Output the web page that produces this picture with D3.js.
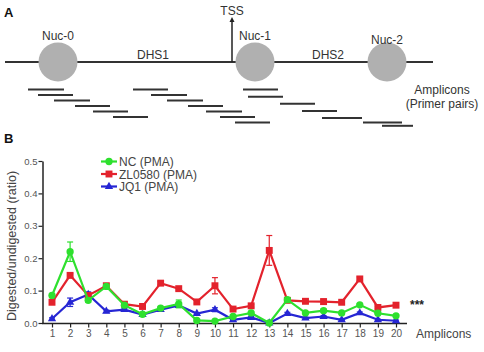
<!DOCTYPE html>
<html><head><meta charset="utf-8">
<script src="https://cdn.jsdelivr.net/npm/d3@7"></script>
<style>
body{margin:0;background:#fff;}
svg{display:block;font-family:"Liberation Sans",Arial,sans-serif;}
</style></head>
<body><svg id="c" width="484" height="352"></svg>
<script>
// ---------- data ----------
const amplicons = d3.range(1, 21);
const ncVals    = [0.085,0.22,0.07,0.113,0.055,0.027,0.046,0.059,0.008,0.006,0.02,0.031,0.0,0.072,0.031,0.038,0.031,0.056,0.03,0.022];
const zlVals    = [0.064,0.147,0.085,0.115,0.058,0.051,0.123,0.106,0.065,0.115,0.043,0.053,0.224,0.07,0.067,0.066,0.064,0.136,0.048,0.055];
const jqVals    = [0.013,0.064,0.088,0.036,0.041,0.026,0.041,0.054,0.029,0.041,0.01,0.017,0.0,0.029,0.015,0.02,0.01,0.031,0.01,0.007];
const ncErr     = [0.006,0.03,0.006,0.005,0.004,0.003,0.005,0.012,0.003,0.003,0.003,0.003,0.002,0.006,0.003,0.005,0.003,0.004,0.003,0.003];
const zlErr     = [0.005,0.006,0.005,0.006,0.004,0.004,0.005,0.004,0.004,0.025,0.004,0.004,0.046,0.004,0.004,0.008,0.004,0.006,0.004,0.004];
const jqErr     = [0.003,0.013,0.008,0.004,0.004,0.003,0.005,0.006,0.003,0.006,0.002,0.003,0.002,0.004,0.003,0.003,0.002,0.003,0.002,0.002];
const yTicks    = [0, 0.1, 0.2, 0.3, 0.4, 0.5];
const seriesNames = ["NC (PMA)", "ZL0580 (PMA)", "JQ1 (PMA)"];
// Panel A: genomic diagram (arbitrary genomic units)
const nucleosomes = ["Nuc-0", "Nuc-1", "Nuc-2"];
const nucCenters  = [58, 255, 387];
const tssPos      = 232;
const ampStart = [28,38,54,75,93,113, 133,151,167,188,206,220,235, 243,248,280,302,322,363,382];
const ampEnd   = [64,73,90,110,128,148, 168,187,203,223,242,255,270, 278,283,315,337,362,402,413];
const ampRow   = [0,1,2,3,4,5, 0,1,2,3,4,5,6, 0,1.3,2.6,3.9,5.2,6,6.6];

const svg = d3.select("#c");
const txt = "#333";
const FS = 12;

// ---------- Panel A ----------
svg.append("text").attr("x",4).attr("y",17).attr("font-weight","bold").attr("font-size",13).attr("fill","#111").text("A");
const gx = d3.scaleLinear().domain([0, 484]).range([0, 484]);
const lineY = 62;
svg.append("line").attr("x1",gx(5)).attr("x2",gx(433)).attr("y1",lineY).attr("y2",lineY)
  .attr("stroke","#333").attr("stroke-width",2);
svg.selectAll("circle.nuc").data(nucleosomes).join("circle").attr("class","nuc")
  .attr("cx",(d,i)=>gx(nucCenters[i])).attr("cy",lineY).attr("r",19.5).attr("fill","#b0b0b0");
svg.selectAll("text.nuc").data(nucleosomes).join("text").attr("class","nuc")
  .attr("x",(d,i)=>gx(nucCenters[i])).attr("y",(d,i)=>i===2?44:40).attr("text-anchor","middle")
  .attr("font-size",FS).attr("fill",txt).text(d=>d);
svg.append("text").attr("x",gx(153)).attr("y",59).attr("text-anchor","middle").attr("font-size",FS).attr("fill",txt).text("DHS1");
svg.append("text").attr("x",gx(328)).attr("y",59).attr("text-anchor","middle").attr("font-size",FS).attr("fill",txt).text("DHS2");
svg.append("line").attr("x1",gx(tssPos)).attr("x2",gx(tssPos)).attr("y1",lineY).attr("y2",20).attr("stroke","#222").attr("stroke-width",1.5);
svg.append("path").attr("d",`M${gx(tssPos)-2.5},22 L${gx(tssPos)},17 L${gx(tssPos)+2.5},22 Z`).attr("fill","#222");
svg.append("text").attr("x",gx(tssPos)).attr("y",15).attr("text-anchor","middle").attr("font-size",FS).attr("fill",txt).text("TSS");
const rowY = d3.scaleLinear().domain([0,6]).range([89.5,122.5]);
svg.selectAll("line.amp").data(amplicons).join("line").attr("class","amp")
  .attr("x1",(d,i)=>gx(ampStart[i])).attr("x2",(d,i)=>gx(ampEnd[i]))
  .attr("y1",(d,i)=>rowY(ampRow[i])).attr("y2",(d,i)=>rowY(ampRow[i]))
  .attr("stroke","#333").attr("stroke-width",2);
svg.append("text").attr("x",442).attr("y",94).attr("text-anchor","middle").attr("font-size",FS).attr("fill",txt).text("Amplicons");
svg.append("text").attr("x",442).attr("y",108).attr("text-anchor","middle").attr("font-size",FS).attr("fill",txt).text("(Primer pairs)");

// ---------- Panel B ----------
svg.append("text").attr("x",4).attr("y",143).attr("font-weight","bold").attr("font-size",13).attr("fill","#111").text("B");

const x = d3.scaleLinear().domain([1,20]).range([52,396]);
const y = d3.scaleLinear().domain([0,0.5]).range([323,161]);

// axes
const yAxis = d3.axisLeft(y).tickValues(yTicks).tickFormat(d3.format(".1f")).tickSize(4).tickSizeOuter(0);
const gy = svg.append("g").attr("transform","translate(42.5,0)").call(yAxis);
gy.select(".domain").attr("stroke","#222").attr("stroke-width",1.5);
gy.selectAll(".tick line").attr("stroke","#222").attr("stroke-width",1.2);
gy.selectAll(".tick text").attr("font-size",9.5).attr("fill","#555").attr("font-family","Liberation Sans, Arial, sans-serif").attr("x",-5);

const xAxis = d3.axisBottom(x).tickValues(amplicons).tickFormat(d3.format("d")).tickSize(4).tickSizeOuter(0);
const gxa = svg.append("g").attr("transform","translate(0,323.5)").call(xAxis);
gxa.select(".domain").attr("d","M42,0H407").attr("stroke","#222").attr("stroke-width",1.5);
gxa.selectAll(".tick line").attr("stroke","#222").attr("stroke-width",1.2);
gxa.selectAll(".tick text").attr("font-size",10).attr("fill","#555").attr("font-family","Liberation Sans, Arial, sans-serif").attr("y",6);

svg.append("text").attr("transform","translate(16,246) rotate(-90)").attr("text-anchor","middle")
  .attr("font-size",12.5).attr("fill","#444").text("Digested/undigested (ratio)");
svg.append("text").attr("x",416).attr("y",338).attr("font-size",FS).attr("fill","#444").text("Amplicons");
svg.append("text").attr("x",410).attr("y",309).attr("font-size",12).attr("font-weight","bold").attr("fill","#222").text("***");

const series = [
  {name:seriesNames[2], vals:jqVals, err:jqErr, color:"#2626d4", shape:d3.symbolTriangle, size:30},
  {name:seriesNames[1], vals:zlVals, err:zlErr, color:"#e3222c", shape:d3.symbolSquare, size:48},
  {name:seriesNames[0], vals:ncVals, err:ncErr, color:"#2ee02e", shape:d3.symbolCircle, size:42},
];
const line = d3.line().x((d,i)=>x(amplicons[i])).y(d=>y(d));
series.forEach(s=>{
  const g = svg.append("g");
  s.vals.forEach((v,i)=>{
    const cx = x(amplicons[i]);
    g.append("line").attr("x1",cx).attr("x2",cx).attr("y1",y(v-s.err[i])).attr("y2",y(v+s.err[i])).attr("stroke",s.color).attr("stroke-width",1.2);
    [v-s.err[i], v+s.err[i]].forEach(e=>{
      g.append("line").attr("x1",cx-3).attr("x2",cx+3).attr("y1",y(e)).attr("y2",y(e)).attr("stroke",s.color).attr("stroke-width",1.2);
    });
  });
  g.append("path").attr("d",line(s.vals)).attr("fill","none").attr("stroke",s.color).attr("stroke-width",2.2);
  g.selectAll("path.m").data(s.vals).join("path").attr("class","m")
    .attr("transform",(d,i)=>`translate(${x(amplicons[i])},${y(d)})`)
    .attr("d",d3.symbol().type(s.shape).size(s.size)).attr("fill",s.color);
});

// legend
const legend = [
  {name:seriesNames[0], color:"#2ee02e", shape:d3.symbolCircle, size:42},
  {name:seriesNames[1], color:"#e3222c", shape:d3.symbolSquare, size:48},
  {name:seriesNames[2], color:"#2626d4", shape:d3.symbolTriangle, size:30},
];
legend.forEach((l,i)=>{
  const ly = 161.5 + i*12.5;
  svg.append("line").attr("x1",101).attr("x2",117).attr("y1",ly).attr("y2",ly).attr("stroke",l.color).attr("stroke-width",2.2);
  svg.append("path").attr("transform",`translate(109,${ly})`).attr("d",d3.symbol().type(l.shape).size(l.size)).attr("fill",l.color);
  svg.append("text").attr("x",119).attr("y",ly+4.5).attr("font-size",FS).attr("fill","#444").text(l.name);
});
</script></body></html>
